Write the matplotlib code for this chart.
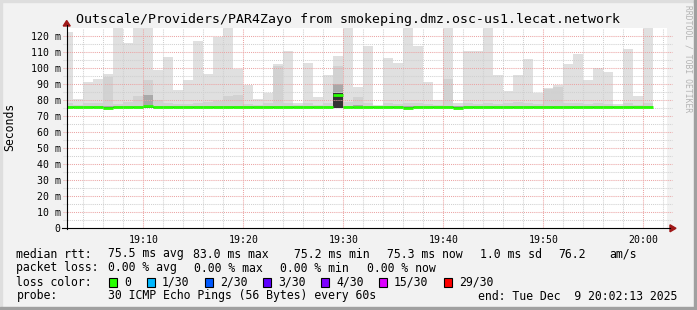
import numpy as np
import matplotlib.pyplot as plt
from matplotlib.patches import Rectangle, Polygon

# --- data (one sample per minute, 19:02 .. 20:00) ---
minutes = np.arange(2, 61)          # minutes after 19:00, start of each sample
rtt_max = [122.0, 80.5, 91.0, 93.0, 96.0, 131.0, 115.5, 133.0, 129.0, 98.6,
           106.7, 86.2, 92.4, 116.8, 96.0, 119.2, 134.0, 99.4, 89.2, 80.5,
           84.3, 102.5, 110.6, 78.0, 103.0, 81.9, 95.6, 107.3, 130.0, 88.2,
           113.6, 76.6, 106.1, 103.0, 136.0, 113.7, 91.0, 80.1, 132.0, 78.0,
           110.5, 110.5, 129.0, 95.3, 85.6, 95.5, 105.5, 84.4, 87.5, 89.3,
           102.5, 108.8, 92.6, 99.9, 97.4, 77.2, 111.8, 82.5, 131.0]
rtt_p90 = [78.0, 77.0, 77.8, 77.8, 94.0, 77.5, 78.5, 82.4, 92.4, 80.0,
           78.0, 77.5, 77.3, 78.0, 78.5, 79.5, 82.5, 83.0, 77.5, 77.0,
           78.0, 101.0, 78.0, 76.8, 78.0, 77.0, 78.0, 101.0, 79.0, 82.0,
           78.0, 76.2, 78.0, 77.5, 78.0, 78.0, 77.5, 77.0, 93.0, 76.5,
           78.0, 77.5, 78.0, 77.5, 77.8, 79.0, 78.0, 77.3, 86.5, 88.0,
           78.0, 78.0, 77.5, 78.0, 77.5, 76.5, 78.0, 77.0, 78.0]
rtt_p75 = [75.9] * 59
rtt_p75[8] = 83.3
rtt_p75[27] = 90.0
rtt_p75[29] = 77.0
rtt_p60 = [75.6] * 59
rtt_p60[27] = 84.0
rtt_min = [75.0] * 59
rtt_median = [75.5] * 59
rtt_median[4] = 75.0
rtt_median[8] = 76.2
rtt_median[27] = 83.0
rtt_median[34] = 75.0
rtt_median[39] = 75.0

ytick_vals = list(range(0, 121, 10))
ytick_labels = ['0'] + ['%d m' % v for v in ytick_vals[1:]]
xtick_vals = [10, 20, 30, 40, 50, 60]
xtick_labels = ['19:10', '19:20', '19:30', '19:40', '19:50', '20:00']

loss_labels = ['0', '1/30', '2/30', '3/30', '4/30', '15/30', '29/30']
loss_colors = ['#26ff00', '#00b8ff', '#0059ff', '#5e00ff', '#7e00ff', '#dd00ff', '#ff0000']

title = 'Outscale/Providers/PAR4Zayo from smokeping.dmz.osc-us1.lecat.network'

W, H = 697, 310
plt.rcParams['font.family'] = 'DejaVu Sans Mono'

fig = plt.figure(figsize=(W / 100, H / 100), dpi=100, facecolor='#f2f2f2')


def px(x, y):
    # pixel coords (top-left origin) -> figure coords
    return (x / W, 1 - y / H)


left, right, bottom, top = 66.7, 666.7, 228.3, 28.0
ax = fig.add_axes([left / W, 1 - bottom / H, (right - left) / W, (bottom - top) / H])
ax.set_xlim(2.34, 62.34)
ax.set_ylim(0, 124.8)
ax.set_facecolor('white')
for s in ax.spines.values():
    s.set_visible(False)

# smoke
rmin = np.array(rtt_min)
levels = [(rtt_max, '#e0e0e0'), (rtt_p90, '#d2d2d2'), (rtt_p75, '#a9a9a9'), (rtt_p60, '#333333')]
for vals, col in levels:
    ax.bar(minutes, np.array(vals) - rmin, bottom=rmin, width=1, align='edge',
           color=col, linewidth=0, antialiased=False, zorder=1)

# grid (drawn over the smoke, like rrdtool)
x0, x1 = ax.get_xlim()
for v in range(5, 125, 5):
    major = v % 10 == 0
    ax.plot([x0 - 0.35, x1 + 0.5], [v, v], color='#eba4a4' if major else '#d0d0d0',
            lw=0.75, ls=(0, (1, 1)), clip_on=False, zorder=2)
for m in range(4, 63, 2):
    major = m % 10 == 0
    ax.plot([m, m], [0, 124.8], color='#eba4a4' if major else '#d0d0d0',
            lw=0.75, ls=(0, (1, 1)), zorder=2)

# median line
ax.hlines(rtt_median, minutes, minutes + 1, color=loss_colors[0], lw=2.0, zorder=3,
          capstyle='butt')

ax.set_xticks(xtick_vals, xtick_labels)
ax.set_yticks(ytick_vals, ytick_labels)
ax.tick_params(length=0, labelsize=7.1, colors='black')
ax.tick_params(axis='x', pad=4.6)
ax.tick_params(axis='y', pad=4.4)

# axes with arrows
fig.add_artist(plt.Line2D(*zip(px(left, 229), px(left, 25)), color='black', lw=0.8))
fig.add_artist(plt.Line2D(*zip(px(62, bottom), px(670, bottom)), color='black', lw=0.8))
fig.add_artist(Polygon([px(left, 20.5), px(left - 3.5, 26), px(left + 3.5, 26)],
                       closed=True, color='#a01818', transform=fig.transFigure))
fig.add_artist(Polygon([px(676, bottom), px(670, bottom - 3.5), px(670, bottom + 3.5)],
                       closed=True, color='#a01818', transform=fig.transFigure))

# texts
fig.text(*px(348, 19.5), title, ha='center', va='center', fontsize=9.5)
fig.text(*px(10, 127), 'Seconds', rotation=90, ha='center', va='center', fontsize=8.3)
fig.text(*px(688, 59), 'RRDTOOL / TOBI OETIKER', rotation=270, ha='center', va='center',
         fontsize=5.8, color='#b4b4b4')

fs = 8.3
rows = [
    (254, [(16.5, 'median rtt:'), (108, '75.5 ms avg'), (193.5, '83.0 ms max'),
           (294.5, '75.2 ms min'), (387.5, '75.3 ms now'), (480.5, '1.0 ms sd'),
           (558, '76.2'), (609, 'am/s')]),
    (268, [(16.5, 'packet loss:'), (108, '0.00 % avg'), (194, '0.00 % max'),
           (280, '0.00 % min'), (367, '0.00 % now')]),
    (296, [(16.5, 'probe:'), (108, '30 ICMP Echo Pings (56 Bytes) every 60s'),
           (478, 'end: Tue Dec  9 20:02:13 2025')]),
]
for y, items in rows:
    for x, s in items:
        fig.text(*px(x, y), s, ha='left', va='center', fontsize=fs)

fig.text(*px(16.5, 282), 'loss color:', ha='left', va='center', fontsize=fs)
box_x = [109, 147, 205, 263, 321, 379, 444]
for bx, lab, col in zip(box_x, loss_labels, loss_colors):
    fig.add_artist(Rectangle(px(bx, 286.5), 8 / W, 8.5 / H, facecolor=col,
                             edgecolor='black', lw=0.8, transform=fig.transFigure))
    fig.text(*px(bx + 15, 282), lab, ha='left', va='center', fontsize=fs)

# 3d border
fig.add_artist(Rectangle((0, 1 - 2 / H), 1, 2 / H, color='#dedede', transform=fig.transFigure))
fig.add_artist(Rectangle((0, 0), 2 / W, 1, color='#dedede', transform=fig.transFigure))
fig.add_artist(Rectangle((1 - 3 / W, 0), 3 / W, 1, color='#a0a0a0', transform=fig.transFigure))
fig.add_artist(Rectangle((0, 0), 1, 3 / H, color='#a0a0a0', transform=fig.transFigure))

fig.savefig('out.png', dpi=100, facecolor=fig.get_facecolor())
